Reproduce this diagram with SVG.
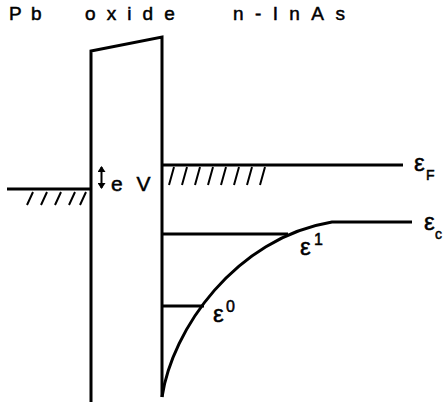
<svg xmlns="http://www.w3.org/2000/svg" width="443" height="418" viewBox="0 0 443 418">
<defs>
<style>
.ln{stroke:#000;stroke-width:3;fill:none;stroke-linecap:butt}
.h{stroke:#000;stroke-width:2;fill:none}
.t{font-family:"Liberation Sans",Arial,sans-serif;fill:#000;stroke:#000;stroke-width:0.5}
</style>
<marker id="ah" viewBox="0 0 6 8" refX="5" refY="4" markerWidth="6" markerHeight="8" markerUnits="userSpaceOnUse" orient="auto-start-reverse">
<path d="M0,0 L6,4 L0,8 Z" fill="#000"/>
</marker>
</defs>
<rect width="443" height="418" fill="#fff"/>
<g id="headers">
<text class="t" x="9" y="20" font-size="19" letter-spacing="9.3">Pb</text>
<text class="t" x="85" y="20" font-size="19" letter-spacing="11.1">oxide</text>
<text class="t" x="233" y="20" font-size="19" letter-spacing="11.4">n-InAs</text>
</g>
<g id="barrier">
<path class="ln" d="M91,402 L91,51 L162,37 L162,397"/>
</g>
<g id="pb-fermi">
<line class="ln" x1="7" y1="189" x2="91" y2="189"/>
<path class="h" d="M27,205 L33,192 M41,205 L47,192 M55,205 L61,192 M69,205 L75,192 M80,205 L86,192"/>
</g>
<g id="ev">
<line x1="101.5" y1="167" x2="101.5" y2="188" stroke="#000" stroke-width="2" marker-start="url(#ah)" marker-end="url(#ah)"/>
<text class="t" x="111" y="191" font-size="21" letter-spacing="4">e V</text>
</g>
<g id="inas-fermi">
<line class="ln" x1="162" y1="165" x2="403" y2="165"/>
<path class="h" d="M169,185 L174,167 M182,185 L187,167 M195,185 L200,167 M208,185 L213,167 M221,185 L226,167 M234,185 L239,167 M247,185 L252,167 M260,185 L265,167"/>
<text class="t" x="414" y="171" font-size="24">ε</text>
<text class="t" x="426" y="180" font-size="14">F</text>
</g>
<g id="conduction">
<path class="ln" d="M162,397 C172,330 235,238 332,222 L412,222"/>
<text class="t" x="424" y="230" font-size="24">ε</text>
<text class="t" x="435" y="239" font-size="14">c</text>
</g>
<g id="subband1">
<line class="ln" x1="162" y1="234" x2="288" y2="234"/>
<text class="t" x="300" y="255" font-size="24">ε</text>
<text class="t" x="314" y="245" font-size="16">1</text>
</g>
<g id="subband0">
<line class="ln" x1="162" y1="306" x2="204" y2="306"/>
<text class="t" x="213" y="322" font-size="24">ε</text>
<text class="t" x="226" y="312" font-size="16">0</text>
</g>
</svg>
